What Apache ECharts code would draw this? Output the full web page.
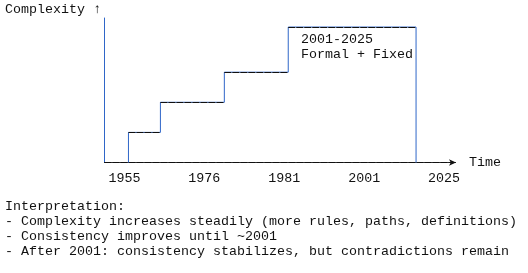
<!DOCTYPE html>
<html>
<head>
<meta charset="utf-8">
<script src="https://cdn.jsdelivr.net/npm/echarts@6/dist/echarts.min.js"></script>
<style>
  html, body { margin: 0; padding: 0; background: #fff; }
  #chart { width: 528px; height: 273px; }
</style>
</head>
<body>
<div id="chart"></div>
<script>
// ---- data (x in character columns, y in text rows) ----
var periodStartCol = [3, 7, 15, 23];
var periodEndCol = 39;
var complexityLevel = [2, 4, 6, 9];
var tickLabels = ['1955', '1976', '1981', '2001', '2025'];
var tickCols = [2.5, 12.5, 22.5, 32.5, 42.5];
var xMaxCol = 44;
var yMaxRow = 9.6;
var annotationLines = ['2001-2025', 'Formal + Fixed'];
var notesLines = [
  'Interpretation:',
  '- Complexity increases steadily (more rules, paths, definitions)',
  '- Consistency improves until ~2001',
  '- After 2001: consistency stabilizes, but contradictions remain'
];

var FONT = '"Liberation Mono", "DejaVu Sans Mono", monospace';
var FS = 13.33;
var INK = '#111111';
var RISER = '#2f66c8';

// step line: start at baseline, climb each level, drop at the end
var stepData = [[periodStartCol[0], 0]];
for (var i = 0; i < periodStartCol.length; i++) {
  stepData.push([periodStartCol[i], complexityLevel[i]]);
}
stepData.push([periodEndCol, 0]);

// horizontal treads (drawn dashed, like text box characters)
var treads = [];
for (var j = 0; j < periodStartCol.length; j++) {
  var endCol = j + 1 < periodStartCol.length ? periodStartCol[j + 1] : periodEndCol;
  treads.push({ coords: [[periodStartCol[j], complexityLevel[j]], [endCol, complexityLevel[j]]] });
}

var chart = echarts.init(document.getElementById('chart'), null, { renderer: 'canvas' });
chart.setOption({
  animation: false,
  backgroundColor: '#ffffff',
  title: {
    text: 'Complexity ↑',
    left: 5, top: 3,
    padding: 0,
    textStyle: { fontFamily: FONT, fontSize: FS, fontWeight: 'normal', color: INK }
  },
  grid: { left: 104.5, right: 72, top: 18, bottom: 110.5, containLabel: false },
  xAxis: {
    type: 'value',
    min: 0, max: xMaxCol,
    name: 'Time',
    nameLocation: 'end',
    nameGap: 13,
    nameTextStyle: { fontFamily: FONT, fontSize: FS, color: INK },
    axisLine: {
      show: true,
      symbol: ['none', 'arrow'],
      symbolSize: [5, 7],
      lineStyle: { color: INK, width: 1, type: [7, 1] }
    },
    axisTick: { show: false },
    splitLine: { show: false },
    axisLabel: {
      customValues: tickCols,
      margin: 9,
      fontFamily: FONT, fontSize: FS, color: INK,
      formatter: function (v) {
        var k = tickCols.indexOf(v);
        return k >= 0 ? tickLabels[k] : '';
      }
    }
  },
  yAxis: {
    type: 'value',
    min: 0, max: yMaxRow,
    axisLine: { show: true, lineStyle: { color: RISER, width: 1 } },
    axisTick: { show: false },
    axisLabel: { show: false },
    splitLine: { show: false }
  },
  series: [
    {
      type: 'line',
      step: 'end',
      data: stepData,
      symbol: 'none',
      silent: true,
      lineStyle: { color: RISER, width: 1 },
      z: 2
    },
    {
      type: 'lines',
      coordinateSystem: 'cartesian2d',
      data: treads,
      silent: true,
      lineStyle: { color: INK, width: 1, type: [7, 1], opacity: 1 },
      z: 3
    }
  ],
  graphic: [
    {
      type: 'text',
      left: 301, top: 32,
      style: {
        text: annotationLines.join('\n'),
        font: FS + 'px ' + FONT,
        lineHeight: 15,
        fill: INK
      }
    },
    {
      type: 'text',
      left: 5, top: 199,
      style: {
        text: notesLines.join('\n'),
        font: FS + 'px ' + FONT,
        lineHeight: 15,
        fill: INK
      }
    }
  ]
});
</script>
</body>
</html>
